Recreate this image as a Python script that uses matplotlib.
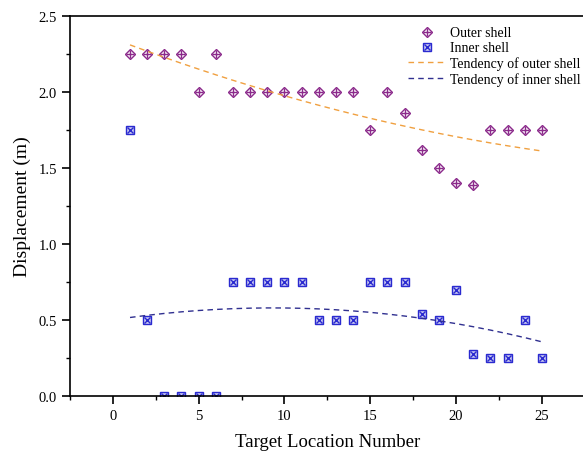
import numpy as np
import matplotlib
matplotlib.use("Agg")
import matplotlib.pyplot as plt
from matplotlib.ticker import MultipleLocator, FormatStrFormatter
from matplotlib.legend_handler import HandlerTuple

plt.rcParams["font.family"] = ["Liberation Serif", "DejaVu Serif"]

locations = list(range(1, 26))
outer_shell = [2.25, 2.25, 2.25, 2.25, 2.0, 2.25, 2.0, 2.0, 2.0, 2.0, 2.0, 2.0, 2.0,
               2.0, 1.75, 2.0, 1.86, 1.62, 1.5, 1.4, 1.39, 1.75, 1.75, 1.75, 1.75]
inner_shell = [1.75, 0.5, 0.0, 0.0, 0.0, 0.0, 0.75, 0.75, 0.75, 0.75, 0.75, 0.5, 0.5,
               0.5, 0.75, 0.75, 0.75, 0.54, 0.5, 0.7, 0.28, 0.25, 0.25, 0.5, 0.25]

# quadratic tendency curves fitted to each shell
x = np.array(locations, dtype=float)
outer_fit = np.polyval(np.polyfit(x, outer_shell, 2), x)
inner_fit = np.polyval(np.polyfit(x, inner_shell, 2), x)

fig = plt.figure(figsize=(5.83, 4.56), dpi=100)
ax = fig.add_axes([0.120, 0.129, 0.883, 0.834])

purple = "#8b2a8b"
blue = "#2a2ad0"
o1, = ax.plot(x, outer_shell, "D", ms=5, mfc="none", mec=purple, mew=1.0)
o2, = ax.plot(x, outer_shell, "+", ms=5.5, mec=purple, mew=1.0)
i1, = ax.plot(x, inner_shell, "s", ms=5.5, mfc="#c8c8f0", mec=blue, mew=1.0)
i2, = ax.plot(x, inner_shell, "x", ms=4, mec=blue, mew=1.0)
t1, = ax.plot(x, outer_fit, color="#f0a040", lw=1.0, dashes=(4, 3))
t2, = ax.plot(x, inner_fit, color="#303090", lw=1.0, dashes=(4, 3))

ax.set_xlim(-2.5, 27.5)
ax.set_ylim(0, 2.5)
ax.xaxis.set_major_locator(MultipleLocator(5))
ax.xaxis.set_minor_locator(MultipleLocator(2.5))
ax.yaxis.set_major_locator(MultipleLocator(0.5))
ax.yaxis.set_minor_locator(MultipleLocator(0.25))
ax.yaxis.set_major_formatter(FormatStrFormatter("%.1f"))
ax.tick_params(which="major", direction="out", length=6, width=1.2, labelsize=10.5)
ax.tick_params(which="minor", direction="out", length=3, width=1.0)
ax.spines["right"].set_visible(False)
for side in ("left", "bottom", "top"):
    ax.spines[side].set_linewidth(1.2)

ax.set_xlabel("Target Location Number", fontsize=13.5, labelpad=8)
ax.set_ylabel("Displacement (m)", fontsize=14, labelpad=5)

ax.legend([(o1, o2), (i1, i2), t1, t2],
          ["Outer shell", "Inner shell", "Tendency of outer shell",
           "Tendency of inner shell"],
          handler_map={tuple: HandlerTuple(ndivide=1, pad=0)},
          loc="upper right", frameon=False, fontsize=10, handlelength=2.7,
          borderaxespad=0.0, labelspacing=0.15, handletextpad=0.3,
          bbox_to_anchor=(1.003, 0.987))

fig.savefig("out.png", dpi=100)
